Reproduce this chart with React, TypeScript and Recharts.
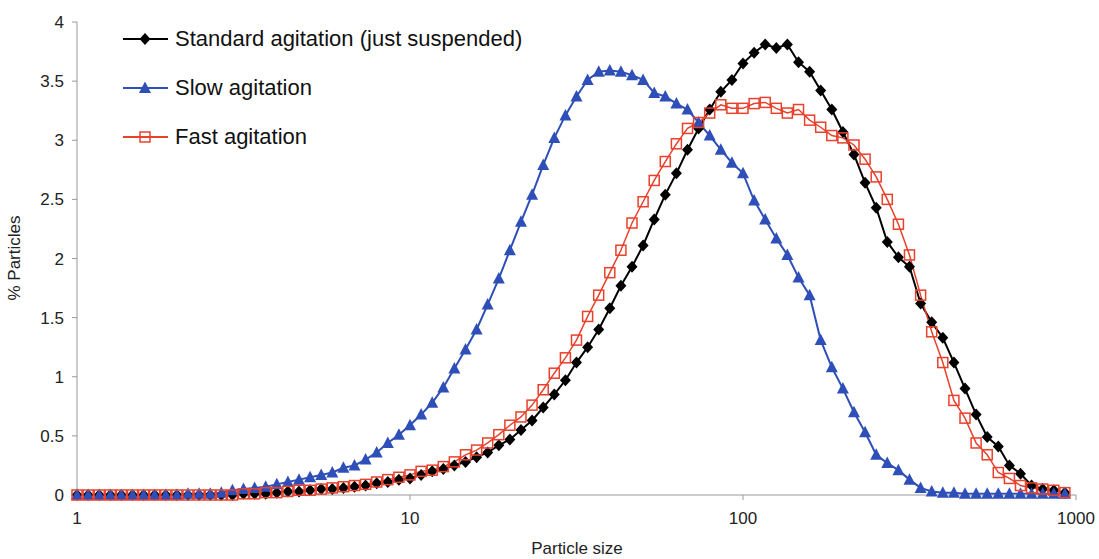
import React from "react";
import { LineChart, Line, XAxis, YAxis, Legend } from "recharts";

const FONT = "'Liberation Sans', Arial, sans-serif";

// particle size bins (log spaced, 30 per decade)
const sizes = [
  1, 1.08, 1.166, 1.259, 1.359, 1.468, 1.585, 1.711, 1.848, 1.995,
  2.154, 2.326, 2.512, 2.712, 2.929, 3.162, 3.415, 3.687, 3.981, 4.299,
  4.642, 5.012, 5.412, 5.843, 6.31, 6.813, 7.356, 7.943, 8.577, 9.261,
  10, 10.8, 11.66, 12.59, 13.59, 14.68, 15.85, 17.11, 18.48, 19.95,
  21.54, 23.26, 25.12, 27.12, 29.29, 31.62, 34.15, 36.87, 39.81, 42.99,
  46.42, 50.12, 54.12, 58.43, 63.1, 68.13, 73.56, 79.43, 85.77, 92.61,
  100, 108, 116.6, 125.9, 135.9, 146.8, 158.5, 171.1, 184.8, 199.5,
  215.4, 232.6, 251.2, 271.2, 292.9, 316.2, 341.5, 368.7, 398.1, 429.9,
  464.2, 501.2, 541.2, 584.3, 631, 681.3, 735.6, 794.3, 857.7, 926.1,
];

const standard = [
  0, 0, 0, 0, 0, 0, 0, 0, 0, 0,
  0, 0, 0, 0, 0, 0.01, 0.01, 0.01, 0.02, 0.03,
  0.03, 0.04, 0.05, 0.05, 0.06, 0.07, 0.08, 0.1, 0.11, 0.13,
  0.14, 0.17, 0.2, 0.22, 0.25, 0.28, 0.32, 0.36, 0.42, 0.47,
  0.55, 0.63, 0.74, 0.85, 0.97, 1.12, 1.25, 1.4, 1.58, 1.77,
  1.93, 2.11, 2.33, 2.54, 2.72, 2.92, 3.1, 3.26, 3.41, 3.51,
  3.65, 3.74, 3.81, 3.78, 3.81, 3.66, 3.58, 3.42, 3.26, 3.07,
  2.88, 2.64, 2.43, 2.14, 2.01, 1.93, 1.62, 1.46, 1.33, 1.12,
  0.9, 0.68, 0.49, 0.41, 0.25, 0.18, 0.08, 0.05, 0.04, 0.02,
];

const slow = [
  0, 0, 0, 0, 0, 0, 0, 0, 0, 0,
  0.01, 0.01, 0.01, 0.02, 0.04, 0.05, 0.06, 0.07, 0.09, 0.11,
  0.13, 0.15, 0.17, 0.19, 0.23, 0.25, 0.3, 0.36, 0.44, 0.51,
  0.59, 0.68, 0.78, 0.91, 1.07, 1.23, 1.4, 1.61, 1.83, 2.07,
  2.31, 2.54, 2.79, 3.02, 3.21, 3.37, 3.51, 3.58, 3.59, 3.58,
  3.55, 3.51, 3.4, 3.37, 3.31, 3.26, 3.15, 3.04, 2.92, 2.81,
  2.72, 2.49, 2.33, 2.17, 2.03, 1.84, 1.69, 1.31, 1.08, 0.9,
  0.7, 0.53, 0.34, 0.27, 0.21, 0.13, 0.06, 0.03, 0.02, 0.02,
  0.01, 0.01, 0.01, 0.01, 0.01, 0.01, 0.01, 0.01, 0.01, 0.01,
];

const fast = [
  0, 0, 0, 0, 0, 0, 0, 0, 0, 0,
  0, 0, 0, 0, 0, 0.01, 0.01, 0.02, 0.02, 0.03,
  0.04, 0.04, 0.05, 0.06, 0.07, 0.08, 0.09, 0.11, 0.13, 0.15,
  0.17, 0.2, 0.21, 0.24, 0.28, 0.34, 0.38, 0.44, 0.51, 0.59,
  0.66, 0.76, 0.89, 1.03, 1.16, 1.31, 1.51, 1.69, 1.88, 2.07,
  2.3, 2.48, 2.66, 2.82, 2.97, 3.1, 3.15, 3.23, 3.3, 3.27,
  3.27, 3.31, 3.32, 3.27, 3.23, 3.26, 3.17, 3.11, 3.04, 3.02,
  2.96, 2.84, 2.69, 2.5, 2.29, 2.03, 1.69, 1.38, 1.12, 0.8,
  0.65, 0.44, 0.34, 0.19, 0.14, 0.08, 0.06, 0.05, 0.04, 0.02,
];

const xTicks = [1, 10, 100, 1000];
const yTicks = [0, 0.5, 1, 1.5, 2, 2.5, 3, 3.5, 4];

const data = sizes.map((size, i) => ({
  size,
  standard: standard[i],
  slow: slow[i],
  fast: fast[i],
}));

const BLACK = "#000000";
const BLUE = "#2f4fb8";
const RED = "#e8412c";

function marker(shape: string, cx: number, cy: number, key?: number) {
  if (shape === "diamond") {
    return (
      <path
        key={key}
        d={`M${cx},${cy - 6}L${cx + 5.5},${cy}L${cx},${cy + 6}L${cx - 5.5},${cy}Z`}
        fill={BLACK}
      />
    );
  }
  if (shape === "triangle") {
    return (
      <path
        key={key}
        d={`M${cx},${cy - 6.5}L${cx + 6},${cy + 5}L${cx - 6},${cy + 5}Z`}
        fill={BLUE}
      />
    );
  }
  return (
    <rect key={key} x={cx - 5} y={cy - 5} width={10} height={10} fill="none" stroke={RED} strokeWidth={1.5} />
  );
}

const series = [
  { key: "standard", name: "Standard agitation (just suspended)", color: BLACK, shape: "diamond", width: 2 },
  { key: "slow", name: "Slow agitation", color: BLUE, shape: "triangle", width: 2 },
  { key: "fast", name: "Fast agitation", color: RED, shape: "square", width: 1.5 },
];

const renderLegend = () => (
  <div style={{ fontFamily: FONT, fontSize: 22, color: "#111" }}>
    {series.map((s) => (
      <div key={s.key} style={{ display: "flex", alignItems: "center", height: 49 }}>
        <svg width={50} height={20}>
          <line x1={2} y1={10} x2={47} y2={10} stroke={s.color} strokeWidth={2} />
          {marker(s.shape, 24, 10)}
        </svg>
        <span style={{ marginLeft: 4, whiteSpace: "nowrap" }}>{s.name}</span>
      </div>
    ))}
  </div>
);

export default function App() {
  return (
    <div style={{ position: "absolute", left: 0, top: 0, background: "#fff" }}>
      <LineChart width={1099} height={559} data={data} margin={{ top: 22, right: 23, bottom: 0, left: 0 }}>
        <XAxis
          dataKey="size"
          type="number"
          scale="log"
          domain={[1, 1000]}
          ticks={xTicks}
          interval={0}
          height={64}
          stroke="#999"
          tickSize={5}
          tickMargin={12}
          tick={{ fontSize: 17, fill: "#222", fontFamily: FONT }}
          label={{
            content: () => (
              <text x={577} y={554} textAnchor="middle" fontSize={17} fill="#222" fontFamily={FONT}>
                Particle size
              </text>
            ),
          }}
        />
        <YAxis
          type="number"
          domain={[0, 4]}
          ticks={yTicks}
          interval={0}
          width={77}
          stroke="#999"
          tickSize={5}
          tickMargin={8}
          tick={{ fontSize: 17, fill: "#222", fontFamily: FONT }}
          label={{
            content: () => (
              <text
                x={20}
                y={258}
                transform="rotate(-90 20 258)"
                textAnchor="middle"
                fontSize={17}
                fill="#222"
                fontFamily={FONT}
              >
                % Particles
              </text>
            ),
          }}
        />
        <Legend
          layout="vertical"
          align="center"
          verticalAlign="middle"
          content={renderLegend}
          wrapperStyle={{ left: 121, top: 14, width: 440, height: 150 }}
        />
        {series.map((s) => (
          <Line
            key={s.key}
            type="linear"
            dataKey={s.key}
            name={s.name}
            stroke={s.color}
            strokeWidth={s.width}
            dot={(p: any) => marker(s.shape, p.cx, p.cy, p.index)}
            activeDot={false}
            isAnimationActive={false}
          />
        ))}
      </LineChart>
    </div>
  );
}
